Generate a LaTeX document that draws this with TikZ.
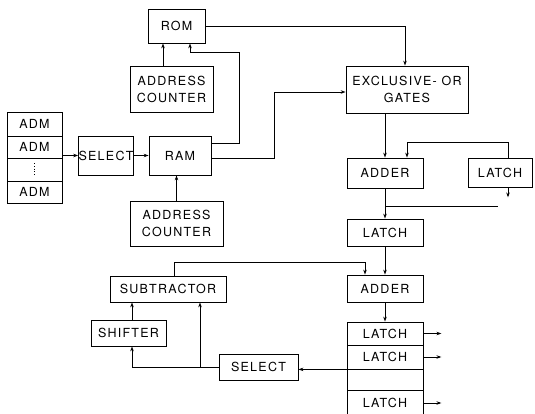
\documentclass[tikz,border=0pt]{standalone}
\usepackage{fontspec}
\setmainfont[LetterSpace=10]{TeX Gyre Heros}
\usetikzlibrary{arrows.meta}
\begin{document}
\begin{tikzpicture}[x=1pt,y=-1pt,>={Stealth[length=5pt,width=3.5pt]},line width=0.8pt,
    blk/.style={draw,inner sep=0pt,align=center,font=\fontsize{12.5}{17}\selectfont}]
            \useasboundingbox (0,0) rectangle (535,414);
            % left column
            \node[blk,minimum width=57,minimum height=34] (rom) at (176.5,26) {ROM};
            \node[blk,minimum width=83,minimum height=46] (ac1) at (171.5,89) {ADDRESS\\COUNTER};
            \node[blk,minimum width=55,minimum height=24] (adm1) at (34.5,124) {ADM};
            \node[blk,minimum width=55,minimum height=22] (adm2) at (34.5,147) {ADM};
            \node[blk,minimum width=55,minimum height=23] (adm3) at (34.5,169.5) {};
            \node[blk,minimum width=55,minimum height=22] (adm4) at (34.5,192) {ADM};
            \node[blk,minimum width=54,minimum height=39] (sel1) at (106,155.5) {SELECT};
            \node[blk,minimum width=62,minimum height=39] (ram) at (180,155.5) {RAM};
            \node[blk,minimum width=93,minimum height=45] (ac2) at (176.5,223.5) {ADDRESS\\COUNTER};
            \node[blk,minimum width=116,minimum height=26] (sub) at (168,289) {SUBTRACTOR};
            \node[blk,minimum width=75,minimum height=26] (shift) at (128.5,333) {SHIFTER};
            \node[blk,minimum width=79,minimum height=26] (sel2) at (258.5,367) {SELECT};
            % right column
            \node[blk,minimum width=122,minimum height=47] (xor) at (407,89.5) {EXCLUSIVE- OR\\GATES};
            \node[blk,minimum width=76,minimum height=30] (add1) at (385,173) {ADDER};
            \node[blk,minimum width=64,minimum height=29] (latchr) at (500,172.5) {LATCH};
            \node[blk,minimum width=76,minimum height=27] (latch1) at (385,232.5) {LATCH};
            \node[blk,minimum width=76,minimum height=27] (add2) at (385,288.5) {ADDER};
            \node[blk,minimum width=76,minimum height=23] (out1) at (385,333.5) {LATCH};
            \node[blk,minimum width=76,minimum height=24] (out2) at (385,357) {LATCH};
            \node[blk,minimum width=76,minimum height=21] (out3) at (385,379.5) {};
            \node[blk,minimum width=76,minimum height=26] (out4) at (385,403) {LATCH};
            % dots in the ADM stack
            \draw[dotted,line width=0.6pt] ([yshift=6pt]adm3.center) -- ([yshift=-6pt]adm3.center);
            % connections
            \draw[->] (adm2.east |- sel1.west) -- (sel1.west);
            \draw[->] (sel1.east) -- (ram.west);
            \draw[->] ([xshift=-8.5pt]ac1.north) -- ([xshift=-8.5pt]ac1.north |- rom.south);
            \draw[->] ([yshift=12.5pt]ram.east) -| (239,52) -| ([xshift=13.5pt]rom.south);
            \draw[->] (ac2.north) -- (ac2.north |- ram.south);
            \draw[->] (rom.east) -| ([xshift=-2pt]xor.north);
            \draw[->] ([yshift=-2.5pt]ram.east) -- (274,158) |- ([yshift=-2.5pt]xor.west);
            \draw[->] (add1.north |- xor.south) -- (add1.north);
            \draw[->] ([xshift=8pt]latchr.north) -- ++(0,-15) -| ([xshift=22pt]add1.north);
            \draw[->] ([xshift=8pt]latchr.south) -- ++(0,10);
            \draw[->] (add1.south) -- (latch1.north);
            \draw (add1.south |- 0,206) -- (498,206);
            \draw[->] (latch1.south) -- (add2.north);
            \draw[->] ([xshift=6pt]sub.north) -- ++(0,-13) -| ([xshift=-20pt]add2.north);
            \draw[->] (add2.south) -- (out1.north);
            \draw[->] (out2.south west) -- (sel2.east |- out2.south west);
            \draw[->] (sel2.west) -| ([xshift=3.5pt]shift.south);
            \draw[->] ([xshift=32pt]sub.south |- sel2.west) -- ([xshift=32pt]sub.south);
            \draw[->] ([xshift=3.5pt]shift.north) -- ([xshift=3.5pt]shift.north |- sub.south);
            \draw[->] (out1.east) -- ++(18,0);
            \draw[->] (out2.east) -- ++(18,0);
            \draw[->] (out4.east) -- ++(18,0);
        \end{tikzpicture}
\end{document}
